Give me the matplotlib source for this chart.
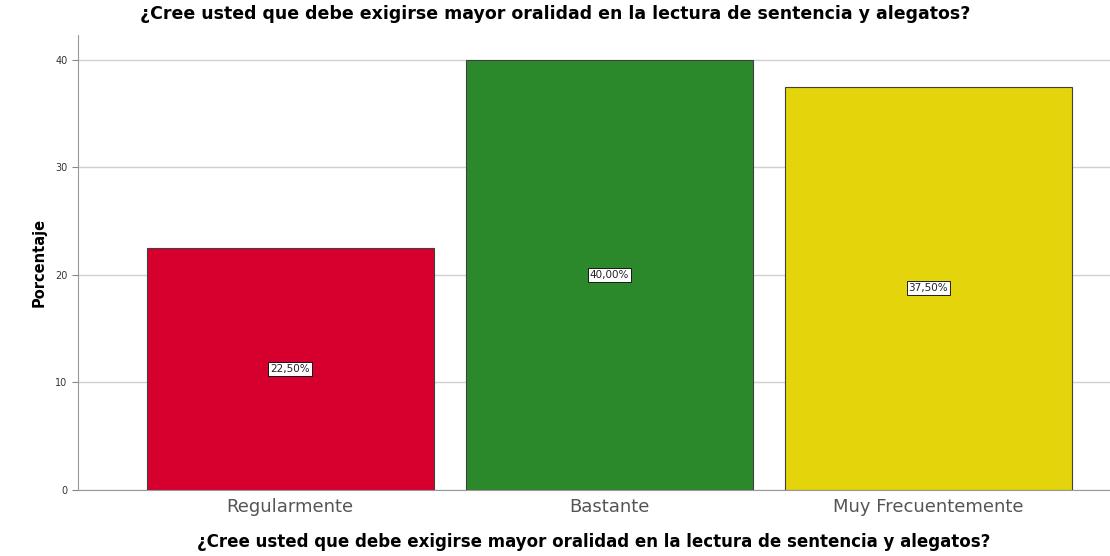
import matplotlib.pyplot as plt

categories = ['Regularmente', 'Bastante', 'Muy Frecuentemente']
percentages = [22.5, 40.0, 37.5]
value_labels = ['22,50%', '40,00%', '37,50%']
colors = ['#d5002e', '#2b882b', '#e3d40c']
title = '¿Cree usted que debe exigirse mayor oralidad en la lectura de sentencia y alegatos?'

fig = plt.figure(figsize=(11.1, 5.56), dpi=100)
ax = fig.add_axes([0.0703, 0.1187, 0.93, 0.818])

x = range(len(categories))
ax.set_axisbelow(True)
ax.yaxis.grid(True, color='#d0d0d0', linewidth=1)
ax.bar(x, percentages, width=0.9, color=colors, edgecolor='#404040', linewidth=0.8)

for xi, v, lab in zip(x, percentages, value_labels):
    ax.text(xi, v / 2, lab, ha='center', va='center', fontsize=7.5, color='#222222',
            bbox=dict(boxstyle='square,pad=0.2', fc='white', ec='black', lw=0.6))

ax.set_xlim(-0.665, 2.57)
ax.set_ylim(0, 42.3)
ax.set_yticks([0, 10, 20, 30, 40])
ax.set_xticks(list(x))
ax.set_xticklabels(categories, fontsize=13, color='#555555')
ax.tick_params(axis='y', labelsize=7, color='#888888', labelcolor='#333333', length=4)
ax.tick_params(axis='x', length=0, pad=6)

for side in ['top', 'right']:
    ax.spines[side].set_visible(False)
for side in ['left', 'bottom']:
    ax.spines[side].set_color('#999999')

ax.set_ylabel('Porcentaje', fontsize=10.5, fontweight='bold', labelpad=6)
ax.set_xlabel(title, fontsize=12, fontweight='bold', labelpad=12)
fig.text(0.5, 0.975, title, ha='center', va='center', fontsize=12.5, fontweight='bold')

fig.savefig('out.png', dpi=100)
